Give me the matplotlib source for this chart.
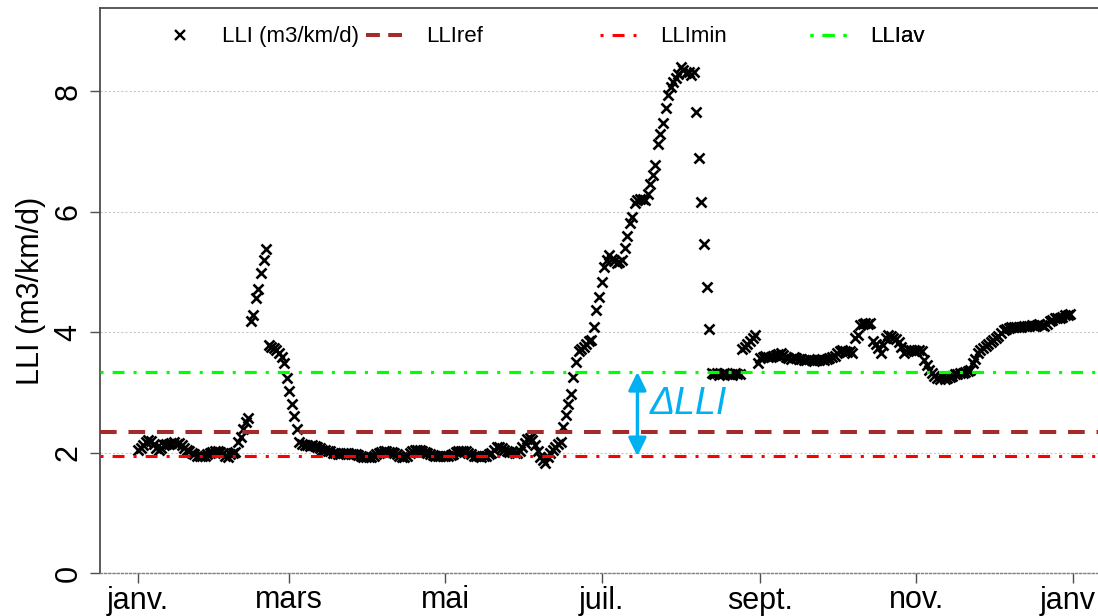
import numpy as np
import matplotlib
matplotlib.use('Agg')
import matplotlib.pyplot as plt
from matplotlib.lines import Line2D
from matplotlib.transforms import ScaledTranslation

plt.rcParams['font.family'] = ['Liberation Sans', 'DejaVu Sans']
plt.rcParams['lines.scale_dashes'] = False

# ---------------- data (daily LLI values, day 0 = 1 January) ----------------
jan = [2.04, 2.08, 2.12, 2.17, 2.21, 2.20, 2.15, 2.08, 2.04, 2.08, 2.12, 2.15, 2.14,
       2.16, 2.17, 2.15, 2.16, 2.12, 2.08, 2.04, 2.02, 1.99, 1.97, 1.95, 1.94, 1.94,
       1.95, 1.97, 2.00, 2.01, 2.02, 2.02, 2.01, 2.00, 1.94, 1.93, 1.98, 2.00, 2.01]
feb = [2.18, 2.26, 2.39, 2.50, 2.57, 4.19, 4.29, 4.57, 4.72, 4.99, 5.20, 5.39, 3.79,
       3.76, 3.73, 3.70, 3.65, 3.58, 3.49, 3.24, 3.02, 2.81, 2.60, 2.39, 2.18]
mar_may = [2.14, 2.12, 2.12, 2.11, 2.12, 2.11, 2.10, 2.08,
           2.05, 2.04, 2.03, 2.02, 2.00,
           1.99, 1.98, 1.98, 1.99, 2.00, 1.99, 1.98, 1.97, 1.97, 1.96, 1.95,
           1.93, 1.92, 1.92, 1.93, 1.95,
           1.98, 2.00, 2.01, 2.02, 2.02, 2.01, 2.01, 2.00, 1.98,
           1.95, 1.93, 1.93, 1.95,
           1.99, 2.02, 2.04, 2.05, 2.04, 2.03, 2.01, 1.99,
           1.97, 1.96, 1.95, 1.95, 1.94, 1.94, 1.95, 1.95, 1.96, 1.98,
           2.01, 2.03, 2.03, 2.02, 2.02, 2.00, 1.98,
           1.95, 1.94, 1.94, 1.93, 1.94, 1.95, 1.97, 2.00,
           2.05, 2.09, 2.10, 2.08, 2.05,
           2.02, 2.01, 2.01, 2.00, 2.00, 2.03,
           2.10, 2.16, 2.22, 2.24, 2.21]
jun_aug = [2.12, 2.02, 1.93, 1.88, 1.82, 1.93, 1.99, 2.04, 2.10, 2.14, 2.18, 2.43, 2.62, 2.81,
           2.97, 3.26, 3.51,
           3.68, 3.72, 3.76, 3.80, 3.85, 3.87,
           4.09, 4.37, 4.59, 4.83, 5.08, 5.20, 5.28,
           5.22, 5.18, 5.15, 5.17, 5.20,
           5.40, 5.60, 5.81, 5.92, 6.14,
           6.20, 6.22, 6.21, 6.20,
           6.30, 6.46, 6.61, 6.78, 7.13, 7.30, 7.48, 7.72, 7.94, 8.08, 8.16, 8.22, 8.29, 8.41,
           8.36, 8.30, 8.33, 8.28, 8.32,
           7.65, 6.90, 6.17, 5.47, 4.75, 4.05,
           3.33, 3.30, 3.32, 3.29, 3.31, 3.33, 3.30, 3.31, 3.29, 3.32, 3.30, 3.31]
sep_dec = [3.72, 3.75, 3.80, 3.86, 3.91, 3.95,
           3.48, 3.57,
           3.59, 3.60, 3.58, 3.59, 3.60, 3.62,
           3.64, 3.66, 3.62,
           3.58, 3.57, 3.56, 3.58, 3.57, 3.55, 3.56,
           3.54, 3.53, 3.55, 3.54, 3.52, 3.53, 3.54, 3.55, 3.53, 3.55,
           3.57, 3.58, 3.60,
           3.65, 3.68, 3.70, 3.69, 3.67, 3.68, 3.66,
           3.90, 3.96, 4.12, 4.14, 4.15, 4.14, 4.15,
           3.86, 3.81, 3.74, 3.66, 3.79, 3.90, 3.95, 3.93, 3.90, 3.88, 3.84, 3.75, 3.65,
           3.68, 3.70, 3.71, 3.70, 3.69, 3.70, 3.68,
           3.54, 3.45, 3.38, 3.33,
           3.28, 3.24, 3.23, 3.25, 3.22, 3.24, 3.26,
           3.28, 3.30, 3.31, 3.33, 3.32, 3.34, 3.35, 3.38,
           3.48, 3.56, 3.65, 3.70, 3.74, 3.77, 3.80, 3.84, 3.87, 3.90, 3.93, 3.98, 4.04,
           4.06, 4.07, 4.08, 4.08, 4.09, 4.08, 4.09, 4.10, 4.10, 4.11,
           4.12, 4.11, 4.12, 4.13, 4.12, 4.11, 4.13,
           4.18, 4.21, 4.23, 4.24, 4.23, 4.25,
           4.28, 4.29, 4.30]

month_ticks = [0, 59, 120, 181, 243, 304, 365]
month_labels = ['janv.', 'mars', 'mai', 'juil.', 'sept.', 'nov.', 'janv']
y_ticks = [0, 2, 4, 6, 8]

LLI_REF = 2.34
LLI_MIN = 1.94
LLI_AV = 3.34
ARROW_DAY = 195

lli = np.array(jan + feb + mar_may + jun_aug + sep_dec)
days = np.arange(len(lli))

# ---------------- figure ----------------
fig = plt.figure(figsize=(10.98, 6.16), dpi=100)
ax = fig.add_axes([100 / 1098, 43 / 616, 998 / 1098, 565 / 616])
ax.set_xlim(-14.9, 374.9)
ax.set_ylim(0, 9.385)

brown = '#A52A2A'
red = '#FF0000'
green = '#00FF00'
blue = '#00B0F0'
ref_ls = (0, (12, 8.5))
dd_ls = (0, (2.2, 6.5, 8.6, 6.5))

ax.plot(days, lli, ls='none', marker='x', ms=6.5, mew=1.9, color='black', zorder=3)
ax.axhline(LLI_REF, color=brown, lw=2.9, ls=ref_ls, zorder=4)
ax.axhline(LLI_MIN, color=red, lw=2.2, ls=dd_ls, zorder=4)
ax.axhline(LLI_AV, color=green, lw=2.3, ls=dd_ls, zorder=4)

# axes styling
ax.set_xticks(month_ticks)
ax.set_xticklabels(month_labels)
ax.set_yticks(y_ticks)
ax.yaxis.grid(True, ls=(0, (1.5, 1.5)), color='#c8c8c8', lw=0.8)
ax.set_axisbelow(True)
for s in ['left', 'top']:
    ax.spines[s].set_color('#4d4d4d')
    ax.spines[s].set_linewidth(1.3)
ax.spines['right'].set_visible(False)
ax.spines['bottom'].set_linestyle((0, (1.5, 1.5)))
ax.spines['bottom'].set_color('#808080')
ax.spines['bottom'].set_linewidth(1.0)

ax.tick_params(axis='both', direction='out', length=7.5, width=1, color='#4d4d4d', labelsize=22)
ax.tick_params(axis='x', pad=1.5)
ax.tick_params(axis='y', pad=4.5)
plt.setp(ax.get_yticklabels(), rotation=90, va='center', ha='right')
# keep the last month label inside the figure
last = ax.get_xticklabels()[-1]
last.set_transform(last.get_transform() + ScaledTranslation(-5 / 100, 0, fig.dpi_scale_trans))

ax.set_ylabel('LLI (m3/km/d)', fontsize=22)
ax.yaxis.set_label_coords(-0.054, 0.5)

# legend (four separately placed entries)
handles = [
    Line2D([], [], ls='none', marker='x', ms=7, mew=1.7, color='black'),
    Line2D([], [], color=brown, lw=2.9, ls=(0, (10, 6))),
    Line2D([], [], color=red, lw=2.2, ls=dd_ls),
    Line2D([], [], color=green, lw=2.3, ls=dd_ls),
]
labels = ['LLI (m3/km/d)', 'LLIref', 'LLImin', 'LLIav']
xpos = [0.0621, 0.2665, 0.501, 0.7114]
for h, l, x in zip(handles, labels, xpos):
    leg = ax.legend([h], [l], loc='center left', bbox_to_anchor=(x, 0.9487),
                    frameon=False, fontsize=16, handlelength=1.62, handletextpad=1.1,
                    borderpad=0, borderaxespad=0)
    ax.add_artist(leg)

# delta annotation
ax.annotate('', xy=(ARROW_DAY, LLI_AV), xytext=(ARROW_DAY, LLI_MIN),
            arrowprops=dict(arrowstyle='<|-|>,head_length=0.55,head_width=0.27',
                            color=blue, lw=2.4, shrinkA=0, shrinkB=0, mutation_scale=20),
            zorder=5)
ax.text(199.9, 2.81, 'ΔLLI', fontsize=27, style='italic', color=blue,
        ha='left', va='center', zorder=5)

fig.savefig('out.png', dpi=100)
